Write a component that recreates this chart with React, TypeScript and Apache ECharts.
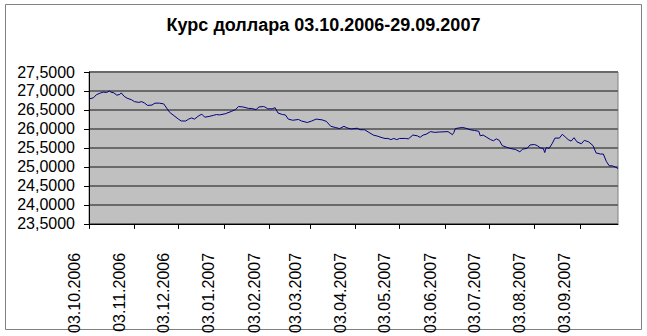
import React, { useEffect, useRef } from "react";
import * as echarts from "echarts";

const titleText = "Курс доллара 03.10.2006-29.09.2007";

// Calendar days from 03.10.2006 to 29.09.2007 (category axis)
const startDay = new Date(2006, 9, 3);
const endDay = new Date(2007, 8, 29);
const pad = (n: number) => (n < 10 ? "0" + n : "" + n);
const categories: string[] = [];
for (let d = new Date(startDay); d <= endDay; d.setDate(d.getDate() + 1)) {
  categories.push(`${pad(d.getDate())}.${pad(d.getMonth() + 1)}.${d.getFullYear()}`);
}

// Day offsets (from 03.10.2006) of the readings and the rate at each
const sampleDays = [
  0, 3, 5, 8, 10, 12, 14, 15, 17, 19, 21, 22, 24, 26, 29, 31, 34, 36, 38, 40,
  43, 45, 48, 51, 53, 55, 58, 61, 63, 66, 68, 70, 72, 75, 77, 79, 82, 85, 87, 89,
  93, 97, 100, 102, 105, 109, 111, 114, 116, 119, 120, 122, 125, 127, 129, 132, 134, 136, 139, 143,
  145, 149, 152, 155, 159, 162, 165, 168, 171, 174, 176, 179, 183, 185, 188, 191, 194, 197, 200, 202,
  204, 206, 208, 210, 212, 216, 218, 221, 224, 226, 228, 230, 233, 236, 239, 245, 248, 249, 250, 253,
  255, 258, 260, 263, 266, 267, 269, 271, 274, 276, 278, 280, 282, 285, 287, 291, 294, 296, 299, 301,
  304, 306, 308, 310, 311, 312, 314, 316, 318, 321, 323, 325, 327, 329, 331, 333, 336, 338, 341, 344,
  346, 349, 351, 353, 355, 357, 359, 361,
];
const rates = [
  26.79, 26.82, 26.9, 26.95, 26.97, 26.96, 27.0, 26.97, 26.95, 26.89, 26.91, 26.95, 26.86, 26.81, 26.77, 26.72, 26.7, 26.72, 26.68, 26.62,
  26.63, 26.68, 26.68, 26.66, 26.55, 26.44, 26.35, 26.26, 26.21, 26.21, 26.26, 26.29, 26.26, 26.35, 26.39, 26.31, 26.33, 26.36, 26.38, 26.37,
  26.4, 26.46, 26.51, 26.59, 26.58, 26.54, 26.54, 26.51, 26.58, 26.59, 26.58, 26.53, 26.53, 26.56, 26.42, 26.38, 26.37, 26.26, 26.23, 26.25,
  26.21, 26.17, 26.21, 26.26, 26.24, 26.2, 26.07, 26.04, 26.01, 26.07, 26.03, 26.0, 26.02, 25.98, 25.98, 25.91, 25.84, 25.81, 25.77, 25.75,
  25.75, 25.72, 25.75, 25.72, 25.75, 25.75, 25.74, 25.84, 25.82, 25.78, 25.84, 25.86, 25.93, 25.91, 25.92, 25.93, 25.85, 25.91, 26.01, 26.03,
  26.04, 26.01, 25.98, 25.96, 25.94, 25.82, 25.84, 25.79, 25.72, 25.69, 25.74, 25.7, 25.56, 25.52, 25.49, 25.46, 25.4, 25.47, 25.49, 25.58,
  25.59, 25.56, 25.5, 25.49, 25.38, 25.51, 25.49, 25.61, 25.76, 25.76, 25.86, 25.79, 25.72, 25.68, 25.77, 25.66, 25.61, 25.7, 25.66, 25.56,
  25.37, 25.34, 25.34, 25.15, 25.03, 25.03, 25.0, 24.96,
];

const yMin = 23.5;
const yMax = 27.5;
const yStep = 0.5;

export default function App() {
  const ref = useRef<HTMLDivElement>(null);
  useEffect(() => {
    if (!ref.current) return;
    const chart = echarts.init(ref.current, undefined, { renderer: "svg" });
    const font = "'Liberation Sans', Arial, sans-serif";
    const isMonthTick = (_i: number, v: string) => v.startsWith("03.");
    chart.setOption({
      animation: false,
      backgroundColor: "#ffffff",
      title: {
        text: titleText,
        left: "center",
        top: 16,
        padding: 0,
        textStyle: { fontFamily: font, fontWeight: "bold", fontSize: 18, color: "#000" },
      },
      graphic: [
        {
          type: "rect",
          shape: { x: 5.5, y: 4.5, width: 636, height: 325 },
          style: { fill: "none", stroke: "#808080", lineWidth: 1 },
          silent: true,
        },
      ],
      grid: {
        left: 89,
        right: 29,
        top: 72,
        bottom: 112,
        show: true,
        backgroundColor: "#c0c0c0",
        borderColor: "#808080",
        borderWidth: 1,
      },
      xAxis: {
        type: "category",
        data: categories,
        boundaryGap: false,
        axisLine: { show: true, lineStyle: { color: "#000", width: 1 } },
        axisTick: { show: true, interval: isMonthTick, length: 5, lineStyle: { color: "#000" } },
        axisLabel: {
          interval: isMonthTick,
          rotate: 90,
          margin: 29,
          verticalAlign: "bottom",
          lineHeight: 30,
          fontFamily: font,
          fontSize: 16,
          color: "#000",
        },
        splitLine: { show: false },
      },
      yAxis: {
        type: "value",
        min: yMin,
        max: yMax,
        interval: yStep,
        axisLine: { show: true, lineStyle: { color: "#000", width: 1 } },
        axisTick: { show: true, length: 5, lineStyle: { color: "#000" } },
        axisLabel: {
          margin: 14,
          fontFamily: font,
          fontSize: 16,
          color: "#000",
          formatter: (v: number) => v.toFixed(4).replace(".", ","),
        },
        splitLine: { show: true, lineStyle: { color: "#6a6a6a", width: 2 } },
      },
      series: [
        {
          type: "line",
          data: sampleDays.map((d, i) => [d, rates[i]]),
          showSymbol: false,
          symbol: "none",
          lineStyle: { color: "#000080", width: 1 },
        },
      ],
    });
    return () => chart.dispose();
  }, []);
  return <div ref={ref} style={{ position: "absolute", left: 0, top: 0, width: 647, height: 336 }} />;
}
